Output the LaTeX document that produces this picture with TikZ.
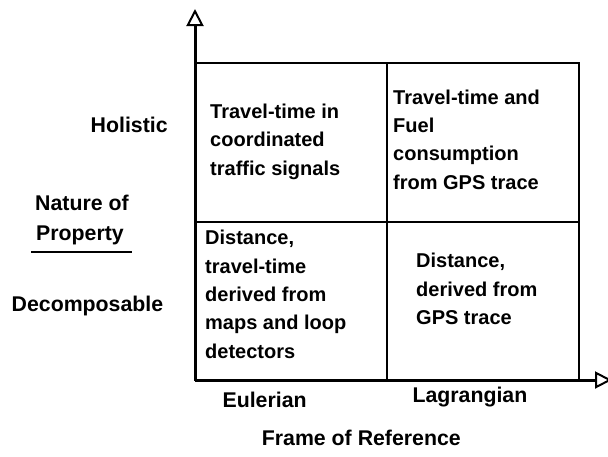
\documentclass[tikz,border=0pt]{standalone}
\usepackage{fontspec}
\setmainfont{Liberation Sans}
\usetikzlibrary{arrows.meta}
\begin{document}
\begin{tikzpicture}[x=1pt,y=-1pt,
  lbl/.style={anchor=base west, inner sep=0pt, font=\fontsize{21.3}{28.4}\selectfont\bfseries},
  cell/.style={anchor=base west, inner sep=0pt, align=left, font=\fontsize{20}{28.3}\selectfont\bfseries},
  axis/.style={line width=3pt, -{Triangle[open,length=17pt,width=17pt,line width=2pt]}},
  gridline/.style={line width=2.5pt}]
  \fill[white] (0,0) rectangle (608,456);
  \useasboundingbox (0,0) rectangle (608,456);

  % quadrant grid
  \draw[gridline] (195,63) rectangle (579,380);
  \draw[gridline] (387,63) -- (387,380);
  \draw[gridline] (195,222) -- (579,222);

  % axes
  \coordinate (origin) at (195,380);
  \coordinate (ytip) at (195,9);
  \coordinate (xtip) at (612,380);
  \draw[axis] (origin) -- (ytip);
  \draw[axis] (origin) -- (xtip);

  % quadrant contents (placed by the baseline of the last line)
  \node[cell] (tl) at (210,175) {Travel-time in\\coordinated\\traffic signals};
  \node[cell] (tr) at (393,189) {Travel-time and\\Fuel\\consumption\\from GPS trace};
  \node[cell] (bl) at (205,358) {Distance,\\travel-time\\derived from\\maps and loop\\detectors};
  \node[cell] (br) at (416,324.4) {Distance,\\derived from\\GPS trace};

  % vertical axis labels
  \node[lbl] (holistic) at (90.5,132.3) {Holistic};
  \node[lbl] (nature) at (35,210.7) {Nature of};
  \node[lbl] (property) at (36,240) {Property};
  \draw[line width=2pt] (31,251.7) -- (131.7,251.7);
  \node[lbl] (decomp) at (11.5,311) {Decomposable};

  % horizontal axis labels
  \node[lbl] (euler) at (222.4,407.3) {Eulerian};
  \node[lbl] (lagr) at (412.3,402.7) {Lagrangian};
  \node[lbl] (frame) at (261.7,445) {Frame of Reference};
\end{tikzpicture}
\end{document}
